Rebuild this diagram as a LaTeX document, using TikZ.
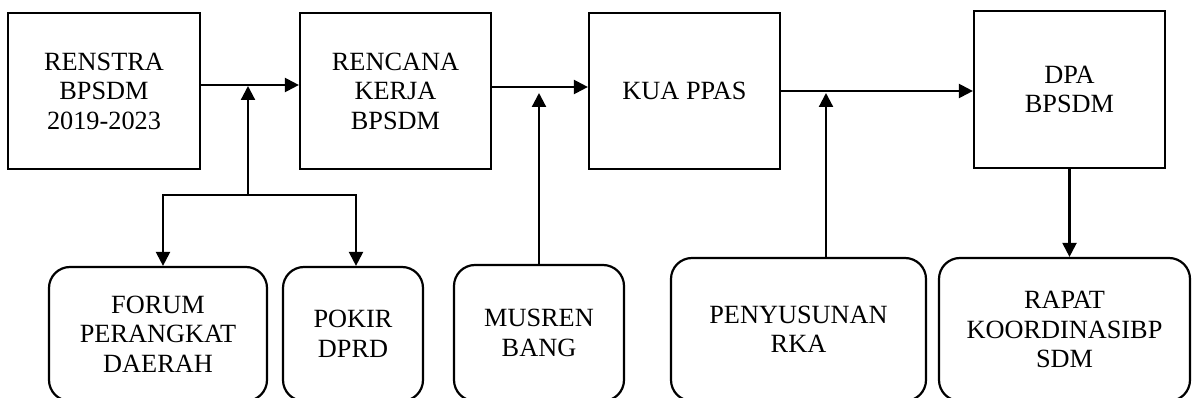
\documentclass[tikz,border=0pt]{standalone}
\usepackage{fontspec}
\setmainfont{Liberation Serif}
\usetikzlibrary{arrows.meta}
\begin{document}
\begin{tikzpicture}[x=1pt,y=-1pt,
  every node/.style={font=\fontsize{26.3}{29.5}\selectfont, align=center, inner sep=0pt},
  topbox/.style={draw, line width=2.2pt, rectangle, minimum width=191pt, minimum height=156pt},
  botbox/.style={draw, line width=2.2pt, rectangle, rounded corners=21pt},
  conn/.style={line width=2.2pt},
  arr/.style={line width=2.2pt, -{Triangle[length=14pt,width=14pt]}}]
\useasboundingbox (0,0) rectangle (1192,398);
% top boxes
\node[topbox, minimum width=192pt] (renstra) at (104,91) {RENSTRA\\BPSDM\\2019-2023};
\node[topbox] (rencana) at (395.5,91) {RENCANA\\KERJA\\BPSDM};
\node[topbox] (kua) at (684.5,91) {KUA PPAS};
\node[topbox, minimum height=157pt] (dpa) at (1069.5,89.5) {DPA\\BPSDM};
% bottom boxes
\node[botbox, minimum width=218pt, minimum height=134pt] (forum) at (158,334) {FORUM\\PERANGKAT\\DAERAH};
\node[botbox, minimum width=140pt, minimum height=134pt] (pokir) at (353,334) {POKIR\\DPRD};
\node[botbox, minimum width=170pt, minimum height=136pt] (musren) at (539,333) {MUSREN\\BANG};
\node[botbox, minimum width=255pt, minimum height=143pt] (penyusunan) at (798.5,329.5) {PENYUSUNAN\\RKA};
\node[botbox, minimum width=251pt, minimum height=143pt] (rapat) at (1064.5,329.5) {RAPAT\\KOORDINASIBP\\SDM};
% main flow
\draw[arr] ([yshift=6pt]renstra.east) -- ([yshift=6pt]rencana.west);
\draw[arr] ([yshift=4pt]rencana.east) -- ([yshift=4pt]rencana.east -| kua.west);
\draw[arr] (kua.east) -- (kua.east -| dpa.west);
% fork from forum / pokir
\coordinate (ft) at (248,86);
\coordinate (f) at (248,195);
\coordinate (fl) at (163,195);
\coordinate (fr) at (356,195);
\draw[arr] (f) -- (ft);
\draw[conn, line cap=rect] (fl) -- (fr);
\draw[arr] (fl) -- (fl |- forum.north);
\draw[arr] (fr) -- (fr |- pokir.north);
% musrenbang
\coordinate (mt) at (539,93);
\draw[arr] (musren.north) -- (mt);
% penyusunan
\coordinate (pt) at (826,93);
\draw[arr] (pt |- penyusunan.north) -- (pt);
% dpa -> rapat
\draw[arr] (dpa.south) -- (dpa.south |- rapat.north);
\end{tikzpicture}
\end{document}
